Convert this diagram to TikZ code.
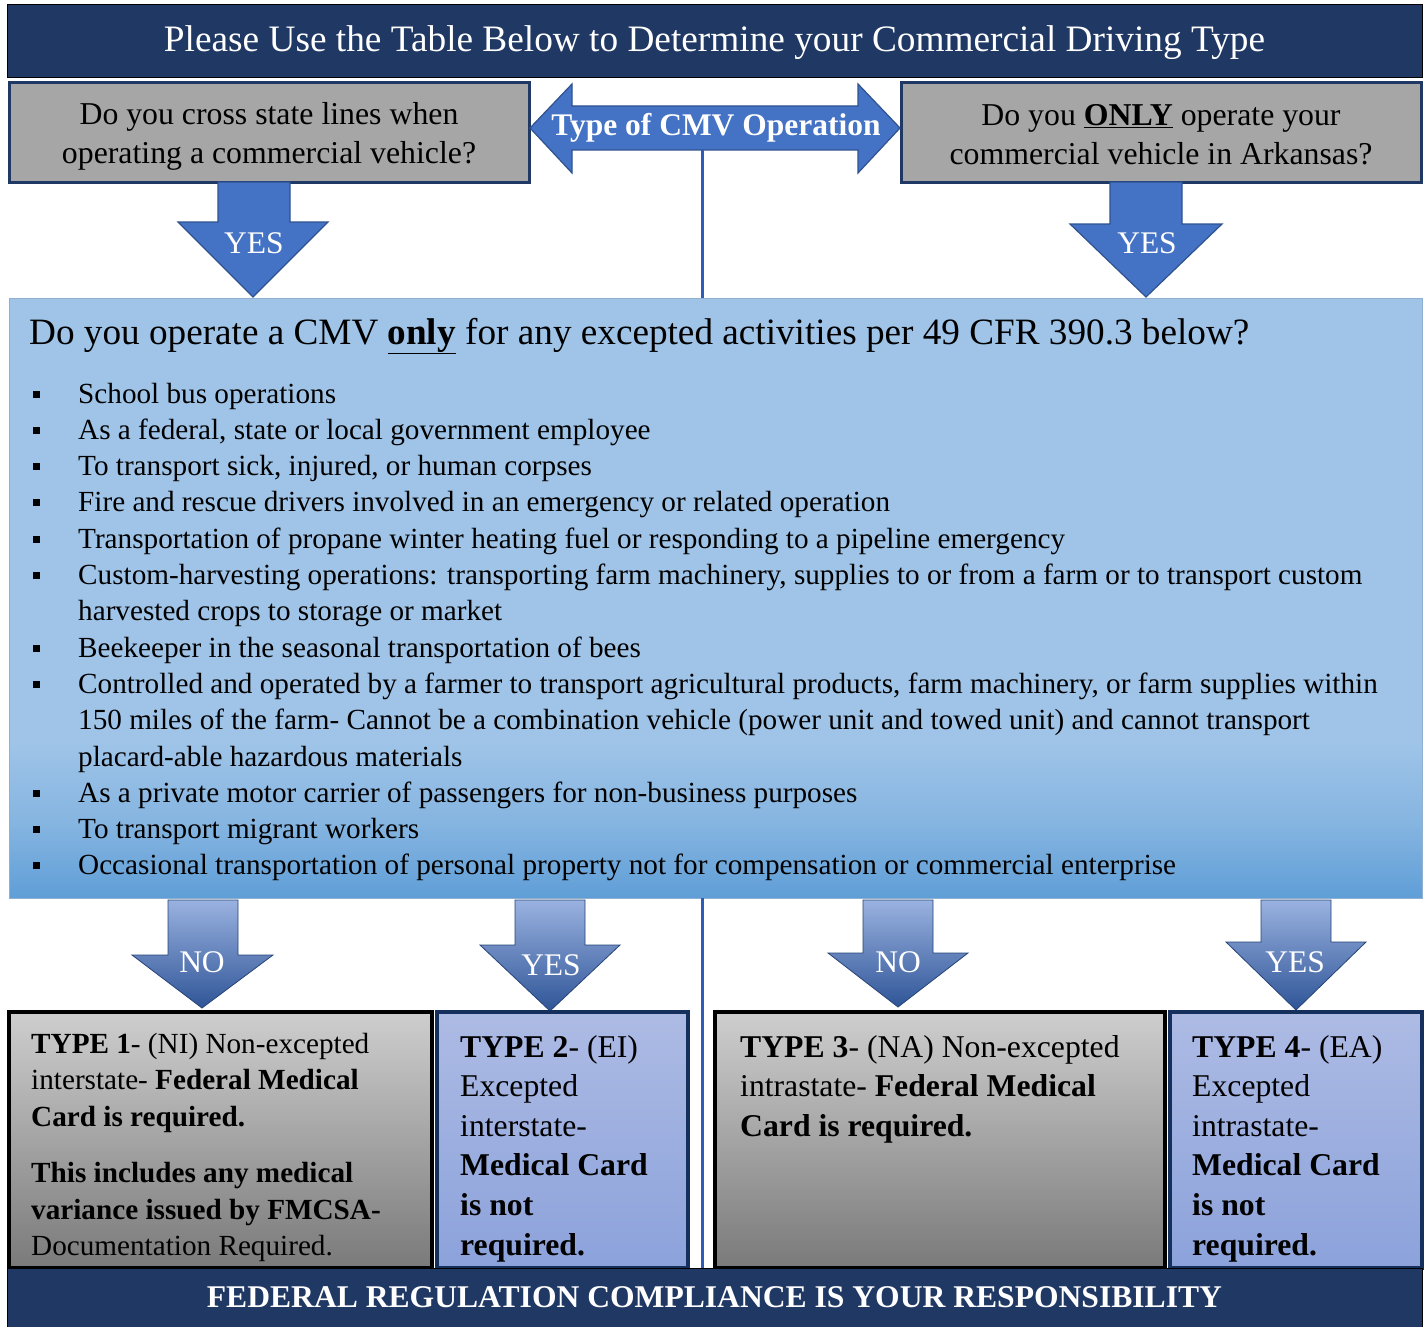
\documentclass[tikz,border=0pt]{standalone}
\usepackage{fontspec}
\setmainfont{Liberation Serif}
\definecolor{navy}{HTML}{203864}
\definecolor{qgray}{HTML}{A6A6A6}
\definecolor{arrblue}{HTML}{4472C4}
\definecolor{arredge}{HTML}{2F528F}
\definecolor{vblue}{HTML}{2E5CB8}
\definecolor{mainTop}{HTML}{9FC4E8}
\definecolor{mainMid}{HTML}{84B4E0}
\definecolor{mainBot}{HTML}{5F9ED7}
\definecolor{arrTop}{HTML}{9AB2E0}
\definecolor{arrBot}{HTML}{2F5597}
\definecolor{grayTop}{HTML}{CECECE}
\definecolor{grayBot}{HTML}{7A7A7A}
\definecolor{blueTop}{HTML}{ADBBE4}
\definecolor{blueBot}{HTML}{8CA2DB}
\definecolor{tedge}{HTML}{16305E}
\pgfdeclareverticalshading{mainshade}{100bp}{color(0bp)=(mainBot); color(25bp)=(mainBot); color(31bp)=(mainMid); color(38bp)=(mainTop); color(75bp)=(mainTop); color(100bp)=(mainTop)}
\tikzset{
  banner/.style={draw=black, line width=1pt, fill=navy, inner sep=0pt, text=white},
  qbox/.style={draw=navy, line width=3pt, fill=qgray, inner sep=0pt},
  qtext/.style={inner sep=0pt, align=center, font=\fontsize{31.8}{39}\selectfont},
  blockarrow/.style={fill=arrblue, draw=arredge, line width=1.2pt},
  gradarrow/.style={top color=arrTop, bottom color=arrBot, draw=arrBot!80!black, line width=0.8pt},
  arrlabel/.style={text=white, inner sep=0pt, font=\fontsize{31.5}{34}\selectfont},
  vline/.style={draw=vblue, line width=3pt},
  graytype/.style={draw=black, line width=3.5pt, top color=grayTop, bottom color=grayBot, inner sep=0pt},
  bluetype/.style={draw=tedge, line width=3.5pt, top color=blueTop, bottom color=blueBot, inner sep=0pt},
  typetext/.style={anchor=base west, inner sep=0pt, align=left}
}
\begin{document}
\begin{tikzpicture}[x=1pt,y=-1pt]
\useasboundingbox (0,0) rectangle (1427,1327);
\fill[white] (0,0) rectangle (1427,1327);

% header
\node[banner, minimum width=1415pt, minimum height=73pt] (head) at (714.5,41.5) {};
\node[text=white, inner sep=0pt, font=\fontsize{37.3}{40}\selectfont] (headtext) at (714.5,43)
  {Please Use the Table Below to Determine your Commercial Driving Type};

% question boxes
\node[qbox, minimum width=520pt, minimum height=99pt] (q1) at (269,132.5) {};
\node[qtext] (q1t) at (269,136) {Do you cross state lines when\\operating a commercial vehicle?};
\node[qbox, minimum width=520pt, minimum height=99pt] (q2) at (1161,132.5) {};
\node[qtext] (q2t) at (1161,135) {Do you \textbf{\underline{ONLY}} operate your\\commercial vehicle in Arkansas?};

% double arrow
\fill[blockarrow] (530,128) -- (572,84) -- (572,106) -- (858,106) -- (858,84) -- (900,128)
  -- (858,173) -- (858,150) -- (572,150) -- (572,173) -- cycle;
\node[text=white, inner sep=0pt, font=\bfseries\fontsize{31.5}{34}\selectfont] (ctype) at (716,128) {Type of CMV Operation};

% main box
\node[shading=mainshade, draw=mainTop!90!black, line width=0.6pt,
      minimum width=1413pt, minimum height=600pt, inner sep=0pt] (main) at (715.5,598) {};

% vertical connector
\coordinate (vtop) at (702,150);
\coordinate (vmid) at (702,298);
\coordinate (vlow) at (702,898);
\coordinate (vbot) at (702,1268);
\draw[vline] (vtop) -- (vmid);
\draw[vline] (vlow) -- (vbot);

% top YES arrows
\fill[blockarrow] (218,182) -- (290,182) -- (290,222) -- (328,222) -- (253,297) -- (178,222) -- (218,222) -- cycle;
\node[arrlabel] (yes1) at (254,243) {YES};
\fill[blockarrow] (1110,182) -- (1182,182) -- (1182,224) -- (1222,224) -- (1146,297) -- (1070,224) -- (1110,224) -- cycle;
\node[arrlabel] (yes2) at (1147,243) {YES};

% main text
\node[anchor=base west, inner sep=0pt, font=\fontsize{37.2}{40}\selectfont] (title) at (29,344)
  {Do you operate a CMV \textbf{\underline{only}} for any excepted activities per 49 CFR 390.3 below?};
\newcommand{\bul}{\makebox[45pt][l]{\rule[5.5pt]{7pt}{7pt}}}
\newcommand{\ind}{\hspace*{45pt}}
\node[anchor=base west, inner sep=0pt] (list) at (33,403)
  {\parbox[t]{1390pt}{\fontsize{29.2}{36.3}\selectfont\raggedright
   \bul School bus operations\\
   \bul As a federal, state or local government employee\\
   \bul To transport sick, injured, or human corpses\\
   \bul Fire and rescue drivers involved in an emergency or related operation\\
   \bul Transportation of propane winter heating fuel or responding to a pipeline emergency\\
   \bul Custom-harvesting operations: transporting farm machinery, supplies to or from a farm or to transport custom\\
   \ind harvested crops to storage or market\\
   \bul Beekeeper in the seasonal transportation of bees\\
   \bul Controlled and operated by a farmer to transport agricultural products, farm machinery, or farm supplies within\\
   \ind 150 miles of the farm- Cannot be a combination vehicle (power unit and towed unit) and cannot transport\\
   \ind placard-able hazardous materials\\
   \bul As a private motor carrier of passengers for non-business purposes\\
   \bul To transport migrant workers\\
   \bul Occasional transportation of personal property not for compensation or commercial enterprise}};

% bottom arrows
\shade[gradarrow] (168,900) -- (238,900) -- (238,955) -- (273,955) -- (202,1008) -- (132,955) -- (168,955) -- cycle;
\node[arrlabel] (no1) at (202,962) {NO};
\shade[gradarrow] (515,900) -- (585,900) -- (585,945) -- (620,945) -- (550,1011) -- (480,945) -- (515,945) -- cycle;
\node[arrlabel] (yes3) at (551,965) {YES};
\shade[gradarrow] (863,900) -- (933,900) -- (933,953) -- (968,953) -- (898,1007) -- (828,953) -- (863,953) -- cycle;
\node[arrlabel] (no2) at (898,962) {NO};
\shade[gradarrow] (1261,900) -- (1331,900) -- (1331,942) -- (1366,942) -- (1296,1010) -- (1226,942) -- (1261,942) -- cycle;
\node[arrlabel] (yes4) at (1295,962) {YES};

% type boxes
\node[graytype, minimum width=423pt, minimum height=256pt] (type1) at (220.5,1140) {};
\node[bluetype, minimum width=251pt, minimum height=256pt] (type2) at (562.5,1140) {};
\node[graytype, minimum width=450pt, minimum height=256pt] (type3) at (940,1140) {};
\node[bluetype, minimum width=252pt, minimum height=256pt] (type4) at (1296,1140) {};

\node[typetext] (t1) at (31,1053) {\parbox[t]{395pt}{\fontsize{29.2}{36.5}\selectfont
  \textbf{TYPE 1}- (NI) Non-excepted\\
  interstate- \textbf{Federal Medical}\\
  \textbf{Card is required.}\\[20pt]
  \textbf{This includes any medical}\\
  \textbf{variance issued by FMCSA-}\\
  Documentation Required.}};
\node[typetext] (t2) at (460,1057) {\parbox[t]{225pt}{\fontsize{31.7}{39.6}\selectfont
  \textbf{TYPE 2}- (EI)\\
  Excepted\\
  interstate-\\
  \textbf{Medical Card}\\
  \textbf{is not}\\
  \textbf{required.}}};
\node[typetext] (t3) at (740,1057) {\parbox[t]{420pt}{\fontsize{31.7}{39.6}\selectfont
  \textbf{TYPE 3}- (NA) Non-excepted\\
  intrastate- \textbf{Federal Medical}\\
  \textbf{Card is required.}}};
\node[typetext] (t4) at (1192,1057) {\parbox[t]{225pt}{\fontsize{31.7}{39.6}\selectfont
  \textbf{TYPE 4}- (EA)\\
  Excepted\\
  intrastate-\\
  \textbf{Medical Card}\\
  \textbf{is not}\\
  \textbf{required.}}};

% footer
\node[banner, minimum width=1415pt, minimum height=59pt, font=\bfseries\fontsize{31.6}{34}\selectfont] (foot) at (714.5,1297.5)
  {FEDERAL REGULATION COMPLIANCE IS YOUR RESPONSIBILITY};
\end{tikzpicture}
\end{document}
